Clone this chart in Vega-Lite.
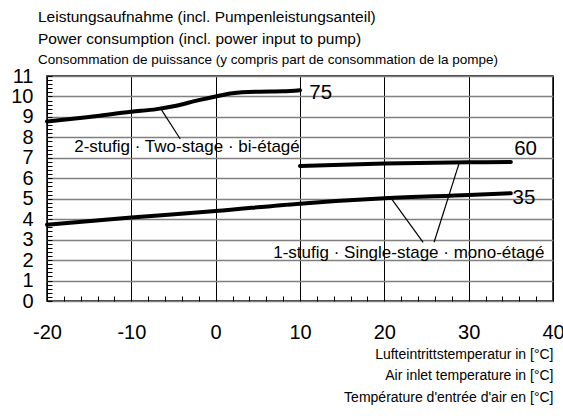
{
  "$schema": "https://vega.github.io/schema/vega-lite/v6.json",
  "width": 506,
  "height": 225,
  "autosize": {"type": "none"},
  "padding": {"left": 47, "top": 76, "right": 10, "bottom": 115},
  "config": {
    "font": "Liberation Sans",
    "view": {"stroke": "black", "strokeWidth": 1.5}
  },
  "title": {
    "text": ["Leistungsaufnahme (incl. Pumpenleistungsanteil)", "Power consumption (incl. power input to pump)"],
    "subtitle": "Consommation de puissance (y compris part de consommation de la pompe)",
    "anchor": "start",
    "frame": "group",
    "font": "Liberation Sans",
    "fontSize": 15.5,
    "fontWeight": "normal",
    "lineHeight": 22,
    "color": "black",
    "subtitleFont": "Liberation Sans",
    "subtitleFontSize": 13.5,
    "subtitleColor": "black",
    "subtitlePadding": 5,
    "offset": 0,
    "dx": -9
  },
  "datasets": {
    "curves": [
      {"t": -20, "p": 8.78, "s": "75"},
      {"t": -15, "p": 9.0, "s": "75"},
      {"t": -10, "p": 9.25, "s": "75"},
      {"t": -7, "p": 9.38, "s": "75"},
      {"t": -5, "p": 9.52, "s": "75"},
      {"t": -2, "p": 9.82, "s": "75"},
      {"t": 0, "p": 10.0, "s": "75"},
      {"t": 2, "p": 10.16, "s": "75"},
      {"t": 5, "p": 10.23, "s": "75"},
      {"t": 8, "p": 10.25, "s": "75"},
      {"t": 10, "p": 10.3, "s": "75"},
      {"t": 10, "p": 6.6, "s": "60"},
      {"t": 20, "p": 6.72, "s": "60"},
      {"t": 30, "p": 6.78, "s": "60"},
      {"t": 35, "p": 6.8, "s": "60"},
      {"t": -20, "p": 3.73, "s": "35"},
      {"t": -10, "p": 4.08, "s": "35"},
      {"t": 0, "p": 4.4, "s": "35"},
      {"t": 10, "p": 4.76, "s": "35"},
      {"t": 20, "p": 5.02, "s": "35"},
      {"t": 30, "p": 5.18, "s": "35"},
      {"t": 35, "p": 5.27, "s": "35"}
    ],
    "leaders": [
      {"t": -6.4, "p": 9.33, "t2": -4.2, "p2": 7.92},
      {"t": 20.9, "p": 4.97, "t2": 24.6, "p2": 2.87},
      {"t": 28.9, "p": 6.78, "t2": 25.9, "p2": 2.87}
    ],
    "labels": [
      {"t": 11.1, "p": 10.15, "txt": "75"},
      {"t": 35.4, "p": 7.45, "txt": "60"},
      {"t": 35.2, "p": 5.05, "txt": "35"}
    ],
    "notes": [
      {"t": -3.4, "p": 7.52, "txt": "2-stufig · Two-stage · bi-étagé"},
      {"t": 22.9, "p": 2.35, "txt": "1-stufig · Single-stage · mono-étagé"}
    ]
  },
  "encoding": {
    "x": {
      "field": "t", "type": "quantitative",
      "scale": {"domain": [-20, 40], "nice": false},
      "axis": {
        "values": [-20, -18, -16, -14, -12, -10, -8, -6, -4, -2, 0, 2, 4, 6, 8, 10, 12, 14, 16, 18, 20, 22, 24, 26, 28, 30, 32, 34, 36, 38, 40],
        "labelExpr": "datum.value % 10 === 0 ? toString(datum.value) : ''",
        "grid": true, "gridColor": "black", "gridWidth": 1,
        "gridOpacity": {"condition": {"test": "datum.value % 10 === 0", "value": 1}, "value": 0},
        "domain": false, "ticks": true, "tickSize": -5, "tickColor": "black", "tickWidth": 1,
        "labelFontSize": 20, "labelColor": "black", "labelPadding": 26,
        "labelFlush": false, "labelOverlap": false,
        "title": ["Lufteintrittstemperatur in [°C]", "Air inlet temperature in [°C]", "Température d'entrée d'air en [°C]"],
        "titleAnchor": "end", "titleAlign": "right", "titleFontSize": 14, "titleFontWeight": "normal",
        "titleLineHeight": 21.5, "titleColor": "black", "titlePadding": 5
      }
    },
    "y": {
      "field": "p", "type": "quantitative",
      "scale": {"domain": [0, 11], "nice": false},
      "axis": {
        "values": [0,0.2,0.4,0.6,0.8,1,1.2,1.4,1.6,1.8,2,2.2,2.4,2.6,2.8,3,3.2,3.4,3.6,3.8,4,4.2,4.4,4.6,4.8,5,5.2,5.4,5.6,5.8,6,6.2,6.4,6.6,6.8,7,7.2,7.4,7.6,7.8,8,8.2,8.4,8.6,8.8,9,9.2,9.4,9.6,9.8,10,10.2,10.4,10.6,10.8,11],
        "labelExpr": "abs(datum.value - round(datum.value)) < 0.01 ? format(round(datum.value), 'd') : ''",
        "grid": true, "gridColor": "#808080", "gridWidth": 1.5,
        "gridOpacity": {"condition": {"test": "abs(datum.value - round(datum.value)) < 0.01", "value": 1}, "value": 0},
        "domain": false, "ticks": true, "tickSize": -5, "tickColor": "black", "tickWidth": 1,
        "labelFontSize": 20, "labelColor": "black", "labelPadding": 19,
        "labelFlush": false, "labelOverlap": false, "title": null
      }
    }
  },
  "layer": [
    {
      "data": {"name": "curves"},
      "mark": {"type": "line", "color": "black", "strokeWidth": 4, "interpolate": "monotone", "strokeCap": "round"},
      "encoding": {
        "detail": {"field": "s"}
      }
    },
    {
      "data": {"name": "leaders"},
      "mark": {"type": "rule", "color": "black", "strokeWidth": 1.2},
      "encoding": {
        "x2": {"field": "t2"},
        "y2": {"field": "p2"}
      }
    },
    {
      "data": {"name": "labels"},
      "mark": {"type": "text", "align": "left", "baseline": "middle", "fontSize": 20.5, "color": "black"},
      "encoding": {
        "text": {"field": "txt"}
      }
    },
    {
      "data": {"name": "notes"},
      "mark": {"type": "text", "align": "center", "baseline": "middle", "fontSize": 17, "color": "black"},
      "encoding": {
        "text": {"field": "txt"}
      }
    }
  ]
}
